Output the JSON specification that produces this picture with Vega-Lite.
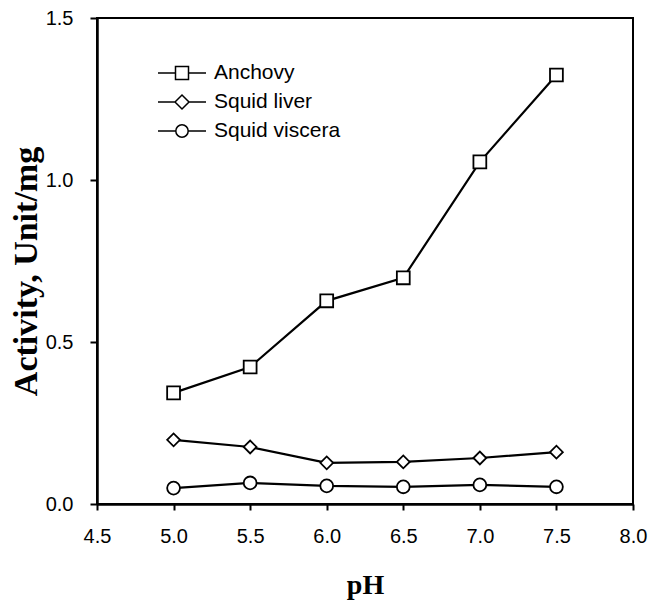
{
  "$schema": "https://vega.github.io/schema/vega-lite/v6.json",
  "width": 536,
  "height": 486,
  "autosize": {"type": "none"},
  "padding": {"left": 97, "top": 18, "right": 27, "bottom": 98},
  "background": "white",
  "config": {
    "view": {"stroke": "black", "strokeWidth": 2},
    "axis": {
      "domainColor": "black", "domainWidth": 2.5, "tickColor": "black", "tickWidth": 2,
      "labelFont": "Liberation Sans", "labelFontSize": 20, "labelColor": "black",
      "titleFont": "Liberation Serif", "titleFontWeight": "bold", "titleColor": "black",
      "grid": false, "labelFlush": false
    }
  },
  "data": {"values": [
    {"pH": 5.0, "activity": 0.343, "series": "Anchovy"},
    {"pH": 5.5, "activity": 0.423, "series": "Anchovy"},
    {"pH": 6.0, "activity": 0.627, "series": "Anchovy"},
    {"pH": 6.5, "activity": 0.698, "series": "Anchovy"},
    {"pH": 7.0, "activity": 1.056, "series": "Anchovy"},
    {"pH": 7.5, "activity": 1.324, "series": "Anchovy"},
    {"pH": 5.0, "activity": 0.198, "series": "Squid liver"},
    {"pH": 5.5, "activity": 0.176, "series": "Squid liver"},
    {"pH": 6.0, "activity": 0.127, "series": "Squid liver"},
    {"pH": 6.5, "activity": 0.130, "series": "Squid liver"},
    {"pH": 7.0, "activity": 0.142, "series": "Squid liver"},
    {"pH": 7.5, "activity": 0.160, "series": "Squid liver"},
    {"pH": 5.0, "activity": 0.049, "series": "Squid viscera"},
    {"pH": 5.5, "activity": 0.065, "series": "Squid viscera"},
    {"pH": 6.0, "activity": 0.056, "series": "Squid viscera"},
    {"pH": 6.5, "activity": 0.053, "series": "Squid viscera"},
    {"pH": 7.0, "activity": 0.059, "series": "Squid viscera"},
    {"pH": 7.5, "activity": 0.053, "series": "Squid viscera"}
  ]},
  "encoding": {
    "x": {
      "field": "pH", "type": "quantitative",
      "scale": {"domain": [4.5, 8.0], "nice": false, "zero": false},
      "axis": {
        "title": "pH", "values": [4.5, 5, 5.5, 6, 6.5, 7, 7.5, 8], "format": ".1f",
        "tickSize": 6, "labelPadding": 16, "titleFontSize": 28,
        "titleY": 81, "titleBaseline": "middle"
      }
    },
    "y": {
      "field": "activity", "type": "quantitative",
      "scale": {"domain": [0, 1.5], "nice": false},
      "axis": {
        "title": "Activity, Unit/mg", "values": [0, 0.5, 1.0, 1.5], "format": ".1f",
        "tickSize": 7, "labelPadding": 17, "titleFontSize": 34,
        "titleAngle": 270, "titleX": -71, "titleY": 253, "titleBaseline": "middle", "titleAlign": "center"
      }
    }
  },
  "layer": [
    {
      "mark": {"type": "line", "color": "black", "strokeWidth": 2.2},
      "encoding": {"detail": {"field": "series"}}
    },
    {
      "mark": {"type": "point", "filled": true, "fill": "white", "stroke": "black", "strokeWidth": 1.8, "opacity": 1, "size": 165},
      "encoding": {
        "shape": {
          "field": "series", "type": "nominal",
          "scale": {"domain": ["Anchovy", "Squid liver", "Squid viscera"], "range": ["square", "diamond", "circle"]},
          "legend": null
        }
      }
    },
    {
      "mark": {"type": "point", "filled": true, "fill": "white", "stroke": "black", "opacity": 0, "size": 400},
      "encoding": {
        "shape": {
          "field": "series", "type": "nominal",
          "scale": {"domain": ["Anchovy", "Squid liver", "Squid viscera"], "range": [
            "M-2.4,0H-0.65M0.65,0H2.4M-0.65,-0.65H0.65V0.65H-0.65Z",
            "M-2.4,0H-0.7M0.7,0H2.4M-0.7,0L0,-0.7L0.7,0L0,0.7Z",
            "M-2.4,0H-0.62M0.62,0H2.4M-0.62,0A0.62,0.62,0,1,0,0.62,0A0.62,0.62,0,1,0,-0.62,0Z"
          ]},
          "legend": {
            "title": null, "orient": "none", "legendX": 74, "legendY": 44, "padding": 0,
            "symbolSize": 400, "rowPadding": 8, "labelOffset": 21,
            "labelFont": "Liberation Sans", "labelFontSize": 21, "labelColor": "black",
            "encode": {"symbols": {"update": {
              "opacity": {"value": 1}, "fill": {"value": "white"}, "stroke": {"value": "black"},
              "strokeWidth": {"value": 1.8}, "size": {"value": 400}
            }}}
          }
        }
      }
    }
  ],
  "resolve": {"scale": {"shape": "independent"}, "legend": {"shape": "independent"}}
}
